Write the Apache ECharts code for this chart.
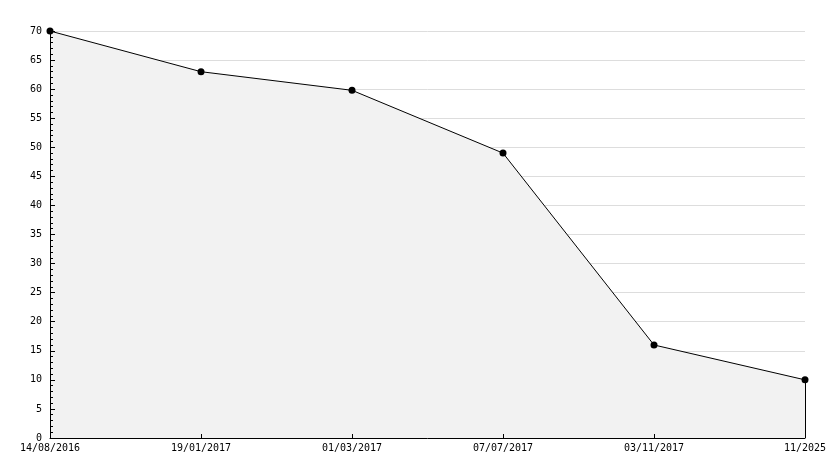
<!DOCTYPE html>
<html><head><meta charset="utf-8">
<script src="https://cdn.jsdelivr.net/npm/echarts@6/dist/echarts.min.js"></script>
<style>html,body{margin:0;padding:0;background:#fff}#c{width:834px;height:468px}</style>
</head><body><div id="c"></div>
<script>
const categories = ["14/08/2016", "19/01/2017", "01/03/2017", "07/07/2017", "03/11/2017", "11/2025"];
const values = [70, 63, 59.8, 49, 16, 10];
const yTicks = {min: 0, max: 70, interval: 5};

const chart = echarts.init(document.getElementById('c'), null, {renderer: 'canvas'});
const font = '"DejaVu Sans Mono", monospace';
chart.setOption({
  animation: false,
  backgroundColor: '#ffffff',
  grid: {left: 50, right: 29, top: 31, bottom: 30, containLabel: false},
  xAxis: [{
    type: 'category',
    z: 0,
    data: categories,
    boundaryGap: false,
    axisLine: {show: false},
    axisTick: {show: false},
    axisLabel: {show: false},
    splitLine: {show: false}
  }, {
    type: 'category',
    position: 'bottom',
    z: 10,
    data: categories,
    boundaryGap: false,
    axisLine: {show: true, lineStyle: {color: '#000', width: 1}},
    axisTick: {show: true, inside: true, length: 4, lineStyle: {color: '#000'}},
    axisLabel: {color: '#000', fontFamily: font, fontSize: 10, margin: 5, interval: 0},
    splitLine: {show: false}
  }],
  yAxis: [{
    type: 'value',
    z: 0,
    min: yTicks.min, max: yTicks.max, interval: yTicks.interval,
    axisLine: {show: false},
    axisTick: {show: false},
    axisLabel: {show: false},
    splitLine: {show: true, lineStyle: {color: '#dddddd', width: 1}}
  }, {
    type: 'value',
    position: 'left',
    z: 10,
    min: yTicks.min, max: yTicks.max, interval: yTicks.interval,
    axisLine: {show: true, lineStyle: {color: '#000', width: 1}},
    axisTick: {show: true, inside: true, length: 5, lineStyle: {color: '#000'}},
    minorTick: {show: true, splitNumber: 5, length: 3, lineStyle: {color: '#000'}},
    axisLabel: {color: '#000', fontFamily: font, fontSize: 10, margin: 8},
    splitLine: {show: false}
  }],
  series: [{
    type: 'line',
    xAxisIndex: 0,
    yAxisIndex: 0,
    z: 2,
    data: values,
    symbol: 'circle',
    symbolSize: 7,
    itemStyle: {color: '#000'},
    lineStyle: {color: '#000', width: 1},
    areaStyle: {color: '#f2f2f2', opacity: 1},
    markLine: {
      silent: true,
      symbol: ['none', 'none'],
      label: {show: false},
      lineStyle: {color: '#000', width: 1, type: 'solid'},
      data: [[
        {coord: [categories.length - 1, values[values.length - 1]]},
        {coord: [categories.length - 1, 0]}
      ]]
    }
  }]
});
</script></body></html>
